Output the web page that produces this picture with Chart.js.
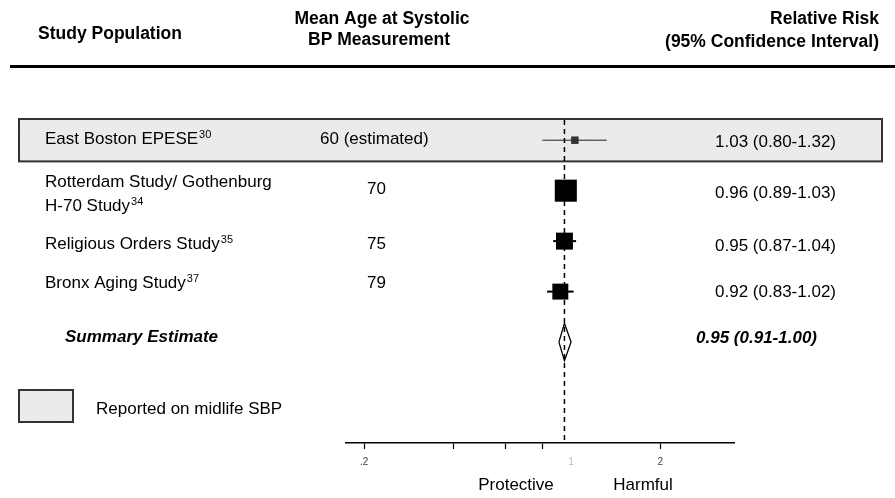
<!DOCTYPE html>
<html>
<head>
<meta charset="utf-8">
<script src="https://cdn.jsdelivr.net/npm/chart.js@4/dist/chart.umd.min.js"></script>
<style>
  body { margin: 0; background: #fff; }
  #wrap { width: 895px; height: 498px; }
</style>
</head>
<body>
<div id="wrap"><canvas id="forest" width="895" height="498"></canvas></div>
<script>
// data
const studies = ['East Boston EPESE', 'Rotterdam Study/ Gothenburg', 'Religious Orders Study', 'Bronx Aging Study'];
const studySecondLine = ['', 'H-70 Study', '', ''];
const refNumbers = ['30', '34', '35', '37'];
const meanAges = ['60 (estimated)', '70', '75', '79'];
const relRisk = [1.03, 0.96, 0.95, 0.92];
const ciLow = [0.80, 0.89, 0.87, 0.83];
const ciHigh = [1.32, 1.03, 1.04, 1.02];
const summaryRR = 0.95;
const summaryLow = 0.91;
const summaryHigh = 1.00;
const midlifeRows = [0];
const tickValues = [0.2, 0.4, 0.6, 0.8, 1, 2];
const tickLabels = ['.2', '', '', '', '1', '2'];

// look
const markerRadius = [5.3, 15.6, 12, 11.3];
const FONT = '"Liberation Sans", Arial, sans-serif';
const rowTextBase = [144, 187, 249, 288];
const rightTextBase = [147, 198, 251, 297];

function fmt(v) { return v.toFixed(2); }

const ds = [];
// squares first so they sit on top
ds.push({
    data: relRisk.map((v, i) => ({x: v, y: i})),
    pointStyle: 'rect',
    pointRadius: markerRadius,
    backgroundColor: relRisk.map((v, i) => midlifeRows.includes(i) ? '#333' : '#000'),
    borderColor: relRisk.map((v, i) => midlifeRows.includes(i) ? '#333' : '#000'),
    borderWidth: 0,
    showLine: false
});
// confidence intervals
relRisk.forEach((v, i) => {
    ds.push({
        data: [{x: ciLow[i], y: i}, {x: ciHigh[i], y: i}],
        showLine: true,
        pointRadius: 0,
        borderColor: midlifeRows.includes(i) ? '#222' : '#000',
        borderWidth: midlifeRows.includes(i) ? 1 : 2
    });
});
// summary diamond
const sRow = studies.length;
ds.push({
    data: [
        {x: summaryLow, y: sRow}, {x: summaryRR, y: sRow - 0.37},
        {x: summaryHigh, y: sRow}, {x: summaryRR, y: sRow + 0.37},
        {x: summaryLow, y: sRow}
    ],
    showLine: true,
    pointRadius: 0,
    borderColor: '#000',
    borderWidth: 1.3,
    tension: 0
});
// dashed line through the summary estimate
ds.push({
    data: [{x: summaryRR, y: -0.4}, {x: summaryRR, y: 6}],
    showLine: true,
    pointRadius: 0,
    borderColor: '#000',
    borderWidth: 1.5,
    borderDash: [5, 4]
});

function shadePattern(ctx) {
    const c = document.createElement('canvas');
    c.width = 3; c.height = 3;
    const p = c.getContext('2d');
    p.fillStyle = '#f0f0f0';
    p.fillRect(0, 0, 3, 3);
    p.fillStyle = '#e1e1e1';
    p.fillRect(0, 0, 1, 1);
    p.fillRect(2, 1, 1, 1);
    p.fillRect(1, 2, 1, 1);
    return ctx.createPattern(c, 'repeat');
}

function textWithSup(ctx, text, sup, x, y) {
    ctx.font = '17px ' + FONT;
    ctx.textAlign = 'left';
    ctx.fillText(text, x, y);
    if (sup) {
        const w = ctx.measureText(text).width;
        ctx.font = '11px ' + FONT;
        ctx.fillText(sup, x + w + 1, y - 6);
    }
}

const forestDecor = {
    id: 'forestDecor',
    beforeDatasetsDraw(chart) {
        const ctx = chart.ctx;
        const y = chart.scales.y;
        ctx.save();
        // shaded row(s) for midlife SBP
        midlifeRows.forEach(r => {
            const top = y.getPixelForValue(r - 0.42);
            const bot = y.getPixelForValue(r + 0.42);
            ctx.fillStyle = shadePattern(ctx);
            ctx.fillRect(19, top, 863, bot - top);
            ctx.strokeStyle = '#333';
            ctx.lineWidth = 2;
            ctx.strokeRect(19, top, 863, bot - top);
        });
        // legend swatch
        ctx.fillStyle = shadePattern(ctx);
        ctx.fillRect(19, 390, 54, 32);
        ctx.strokeStyle = '#333';
        ctx.lineWidth = 2;
        ctx.strokeRect(19, 390, 54, 32);
        // heavy rule under header
        ctx.fillStyle = '#000';
        ctx.fillRect(10, 65, 885, 3);
        ctx.restore();
    },
    afterDraw(chart) {
        const ctx = chart.ctx;
        ctx.save();
        ctx.fillStyle = '#000';
        ctx.textBaseline = 'alphabetic';

        // header
        ctx.font = 'bold 17.5px ' + FONT;
        ctx.textAlign = 'center';
        ctx.fillText('Study Population', 110, 39);
        ctx.fillText('Mean Age at Systolic', 382, 24);
        ctx.fillText('BP Measurement', 379, 45);
        ctx.textAlign = 'right';
        ctx.fillText('Relative Risk', 879, 24);
        ctx.fillText('(95% Confidence Interval)', 879, 47);

        // study rows
        studies.forEach((name, i) => {
            if (studySecondLine[i]) {
                textWithSup(ctx, name, '', 45, rowTextBase[i]);
                textWithSup(ctx, studySecondLine[i], refNumbers[i], 45, rowTextBase[i] + 24);
            } else {
                textWithSup(ctx, name, refNumbers[i], 45, rowTextBase[i]);
            }
            ctx.font = '17px ' + FONT;
            ctx.textAlign = 'left';
            const ageBase = i === 1 ? 194 : rowTextBase[i];
            ctx.fillText(meanAges[i], i === 0 ? 320 : 367, ageBase);
            ctx.textAlign = 'right';
            ctx.fillText(fmt(relRisk[i]) + ' (' + fmt(ciLow[i]) + '-' + fmt(ciHigh[i]) + ')', 836, rightTextBase[i]);
        });

        // summary
        ctx.font = 'italic bold 17px ' + FONT;
        ctx.textAlign = 'left';
        ctx.fillText('Summary Estimate', 65, 342);
        ctx.textAlign = 'right';
        ctx.fillText(fmt(summaryRR) + ' (' + fmt(summaryLow) + '-' + fmt(summaryHigh) + ')', 817, 343);

        // legend + direction labels
        ctx.font = '17px ' + FONT;
        ctx.textAlign = 'left';
        ctx.fillText('Reported on midlife SBP', 96, 414);
        ctx.textAlign = 'center';
        ctx.fillText('Protective', 516, 490);
        ctx.fillText('Harmful', 643, 490);
        ctx.restore();
    }
};

new Chart(document.getElementById('forest'), {
    type: 'scatter',
    data: { datasets: ds },
    options: {
        responsive: false,
        animation: false,
        events: [],
        layout: { padding: { left: 346, right: 161, top: 120, bottom: 0 } },
        plugins: { legend: { display: false }, tooltip: { enabled: false } },
        scales: {
            x: {
                type: 'logarithmic',
                min: 0.1738,
                max: 3.55,
                afterBuildTicks: function (scale) {
                    scale.ticks = tickValues.map(v => ({ value: v }));
                },
                afterFit: function (scale) {
                    scale.height = 55;
                },
                border: { display: true, color: '#000', width: 1.5 },
                grid: {
                    drawOnChartArea: false,
                    drawTicks: true,
                    tickLength: 6,
                    tickWidth: 1.2,
                    tickColor: function (c) {
                        return c.tick && c.tick.value === 1 ? 'rgba(0,0,0,0)' : '#000';
                    }
                },
                ticks: {
                    autoSkip: false,
                    maxRotation: 0,
                    padding: 7,
                    font: { family: FONT, size: 10 },
                    color: function (c) {
                        return c.tick && c.tick.value === 1 ? '#bbb' : '#444';
                    },
                    callback: function (value) {
                        const k = tickValues.indexOf(value);
                        return k >= 0 ? tickLabels[k] : '';
                    }
                }
            },
            y: {
                type: 'linear',
                reverse: true,
                min: -0.4,
                max: 6,
                display: false
            }
        }
    },
    plugins: [forestDecor]
});
</script>
</body>
</html>
